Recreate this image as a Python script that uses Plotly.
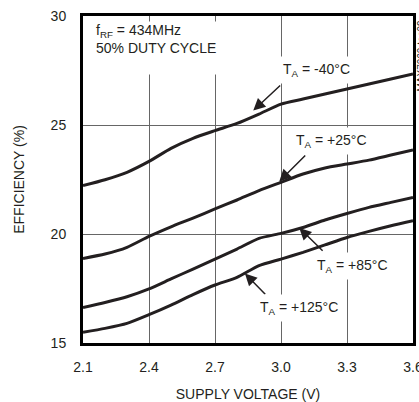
import plotly.graph_objects as go

voltage = [2.1, 2.2, 2.3, 2.4, 2.5, 2.6, 2.7, 2.8, 2.9, 3.0, 3.1, 3.2, 3.3, 3.4, 3.5, 3.6]
eff_m40 = [22.22, 22.49, 22.83, 23.33, 23.93, 24.39, 24.74, 25.07, 25.50, 25.96, 26.19, 26.42, 26.65, 26.88, 27.11, 27.34]
eff_p25 = [18.88, 19.08, 19.39, 19.89, 20.33, 20.73, 21.15, 21.56, 21.99, 22.37, 22.75, 23.03, 23.21, 23.39, 23.62, 23.85]
eff_p85 = [16.63, 16.86, 17.12, 17.48, 17.94, 18.39, 18.85, 19.31, 19.80, 20.03, 20.30, 20.64, 20.94, 21.22, 21.45, 21.68]
eff_p125 = [15.49, 15.67, 15.90, 16.30, 16.74, 17.22, 17.66, 18.01, 18.55, 18.85, 19.16, 19.50, 19.84, 20.12, 20.38, 20.61]

series_names = ["T<sub>A</sub> = -40°C", "T<sub>A</sub> = +25°C", "T<sub>A</sub> = +85°C", "T<sub>A</sub> = +125°C"]
series_values = [eff_m40, eff_p25, eff_p85, eff_p125]

# label centres (voltage, efficiency), arrow tips and tails
label_pos = [(3.162, 27.54), (3.23, 24.28), (3.325, 18.55), (3.082, 16.6)]
arrow_tip = [(2.874, 25.66), (2.992, 22.41), (3.083, 20.28), (2.836, 18.19)]
arrow_tail = [(3.003, 26.88), (3.117, 23.67), (3.196, 19.16), (2.935, 17.17)]

FONT = "Liberation Sans, Arial, Helvetica, sans-serif"
FS = 14
INK = "#231f20"

fig = go.Figure()
for name, vals in zip(series_names, series_values):
    fig.add_trace(go.Scatter(x=voltage, y=vals, mode="lines", name=name,
                             line=dict(color=INK, width=3, shape="spline", smoothing=0.6),
                             showlegend=False, hoverinfo="skip"))

annotations = []
for (tx, ty), (hx, hy) in zip(arrow_tip, arrow_tail):
    annotations.append(dict(x=tx, y=ty, ax=hx, ay=hy, xref="x", yref="y", axref="x", ayref="y",
                            text="", showarrow=True, arrowhead=2, arrowsize=1.6, arrowwidth=1.5,
                            arrowcolor=INK, standoff=0, startstandoff=0))
for name, (lx, ly) in zip(series_names, label_pos):
    annotations.append(dict(x=lx, y=ly, xref="x", yref="y", text=name, showarrow=False,
                            font=dict(family=FONT, size=FS, color=INK),
                            bgcolor="white", borderpad=4))

annotations.append(dict(x=2.153, y=29.76, xref="x", yref="y", xanchor="left", yanchor="top",
                        text="f<sub>RF</sub> = 434MHz<br>50% DUTY CYCLE<br> ", showarrow=False,
                        align="left", font=dict(family=FONT, size=FS, color=INK),
                        bgcolor="white", borderpad=0))

annotations.append(dict(x=1.0, y=1.0, xref="paper", yref="paper", xanchor="left", yanchor="top",
                        xshift=0, yshift=-2, text="MAX7060 toc09", textangle=-90, showarrow=False,
                        font=dict(family=FONT, size=10, color=INK)))

fig.update_layout(
    width=419, height=402,
    margin=dict(l=83, r=6, t=16, b=59, autoexpand=False),
    paper_bgcolor="white", plot_bgcolor="white",
    font=dict(family=FONT, size=FS, color=INK),
    annotations=annotations,
    xaxis=dict(range=[2.1, 3.6], tick0=2.1, dtick=0.3, tickformat=".1f",
               showgrid=True, gridcolor="#666666", gridwidth=1,
               showline=True, linecolor="black", linewidth=3, mirror=True,
               ticks="", ticklabelstandoff=9, ticklabeloverflow="allow",
               zeroline=False, automargin=False,
               title=dict(text="SUPPLY VOLTAGE (V)", standoff=17,
                          font=dict(family=FONT, size=FS, color=INK))),
    yaxis=dict(range=[15, 30], tick0=15, dtick=5,
               showgrid=True, gridcolor="#666666", gridwidth=1,
               showline=True, linecolor="black", linewidth=3, mirror=True,
               ticks="", ticklabelstandoff=11, ticklabeloverflow="allow",
               zeroline=False, automargin=False,
               title=dict(text="EFFICIENCY (%)", standoff=23,
                          font=dict(family=FONT, size=FS, color=INK))),
)

fig.write_html("out.html", config={"displayModeBar": False},
               post_script="document.body.style.margin='0';document.body.style.overflow='hidden';")
